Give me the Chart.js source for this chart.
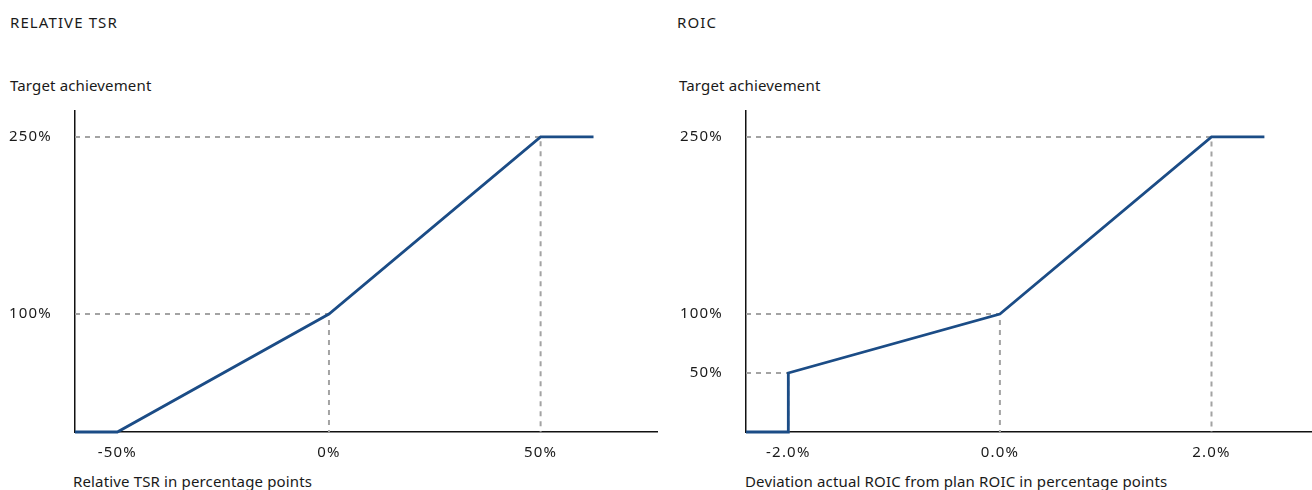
<!DOCTYPE html>
<html>
<head>
<meta charset="utf-8">
<script src="https://cdn.jsdelivr.net/npm/chart.js@4"></script>
<style>
  html, body { margin: 0; padding: 0; background: #fff; }
  body { width: 1312px; height: 490px; position: relative; overflow: hidden;
         font-family: "Noto Sans", sans-serif; color: #1a1a1a; }
  .txt { position: absolute; font-size: 15px; line-height: 20px; white-space: nowrap; letter-spacing: 0.15px; }
  .titulo { letter-spacing: 1.1px; }
  canvas { position: absolute; }
</style>
</head>
<body>
<div class="txt titulo" style="left:10px; top:12px;">RELATIVE TSR</div>
<div class="txt" style="left:10px; top:75px;">Target achievement</div>
<div class="txt" style="left:73px; top:471px;">Relative TSR in percentage points</div>

<div class="txt titulo" style="left:677px; top:12px;">ROIC</div>
<div class="txt" style="left:679px; top:75px;">Target achievement</div>
<div class="txt" style="left:745px; top:471px;">Deviation actual ROIC from plan ROIC in percentage points</div>

<canvas id="tsr" width="662" height="370" style="left:0; top:100px;"></canvas>
<canvas id="roic" width="642" height="370" style="left:670px; top:100px;"></canvas>

<script>
// Relative TSR payout curve
const tsrX = [-60, -50, 0, 50, 62.5];
const tsrY = [0, 0, 100, 250, 250];
const tsrXTicks = [-50, 0, 50];
const tsrYTicks = [100, 250];
const tsrGuides = [[0, 100], [50, 250]];

// ROIC payout curve
const roicX = [-2.4, -2.0, -2.0, 0, 2.0, 2.5];
const roicY = [0, 0, 50, 100, 250, 250];
const roicXTicks = [-2, 0, 2];
const roicYTicks = [50, 100, 250];
const roicGuides = [[-2, 50], [0, 100], [2, 250]];

const BLUE = "#1b4c86";
const GRAY = "#a3a3a3";
const TEXT = "#1a1a1a";
const FONT = { family: "Noto Sans", size: 15 };

// espaçamento entre letras nos rótulos dos eixos
const espacamento = {
  id: "espacamento",
  beforeDraw(chart) { chart.ctx.letterSpacing = "1.2px"; },
  afterDraw(chart) { chart.ctx.letterSpacing = "0px"; },
};

function montarGrafico(id, xs, ys, xTicks, yTicks, guides, xMin, xMax, yWidth, padRight, fmtX) {
  const datasets = [{
    data: xs.map((x, i) => ({ x, y: ys[i] })),
    borderColor: BLUE,
    borderWidth: 2.8,
    pointRadius: 0,
    tension: 0,
    clip: false,
  }];

  // tracejadas de referência: horizontal a partir do eixo, depois vertical até o zero
  guides.forEach(([gx, gy]) => {
    datasets.push({
      data: [{ x: xMin, y: gy }, { x: gx, y: gy }, { x: gx, y: 0 }],
      borderColor: GRAY,
      borderWidth: 2,
      borderDash: [5, 5],
      pointRadius: 0,
      tension: 0,
    });
  });

  new Chart(document.getElementById(id).getContext("2d"), {
    type: "line",
    data: { datasets },
    plugins: [espacamento],
    options: {
      responsive: false,
      animation: false,
      layout: { padding: { top: 11, right: padRight, left: 0, bottom: 0 } },
      plugins: { legend: { display: false }, tooltip: { enabled: false } },
      scales: {
        x: {
          type: "linear",
          min: xMin,
          max: xMax,
          grid: { display: false, drawTicks: false },
          border: { display: true, color: "#111", width: 1.5 },
          afterBuildTicks: (s) => { s.ticks = xTicks.map((v) => ({ value: v })); },
          afterFit: (s) => { s.height = 38; s.paddingLeft = 0; s.paddingRight = 0; },
          ticks: {
            padding: 12,
            color: TEXT,
            font: FONT,
            maxRotation: 0,
            autoSkip: false,
            callback: fmtX,
          },
        },
        y: {
          min: 0,
          max: 272,
          grid: { display: false, drawTicks: false },
          border: { display: true, color: "#111", width: 1.5 },
          afterBuildTicks: (s) => { s.ticks = yTicks.map((v) => ({ value: v })); },
          afterFit: (s) => { s.width = yWidth; s.paddingTop = 0; s.paddingBottom = 0; },
          ticks: {
            padding: 23,
            color: TEXT,
            font: FONT,
            autoSkip: false,
            callback: (v) => v + "%",
          },
        },
      },
    },
  });
}

montarGrafico("tsr", tsrX, tsrY, tsrXTicks, tsrYTicks, tsrGuides, -60, 77.5, 75, 5, (v) => v + "%");
montarGrafico("roic", roicX, roicY, roicXTicks, roicYTicks, roicGuides, -2.4, 2.95, 76, 0, (v) => v.toFixed(1) + "%");
</script>
</body>
</html>
